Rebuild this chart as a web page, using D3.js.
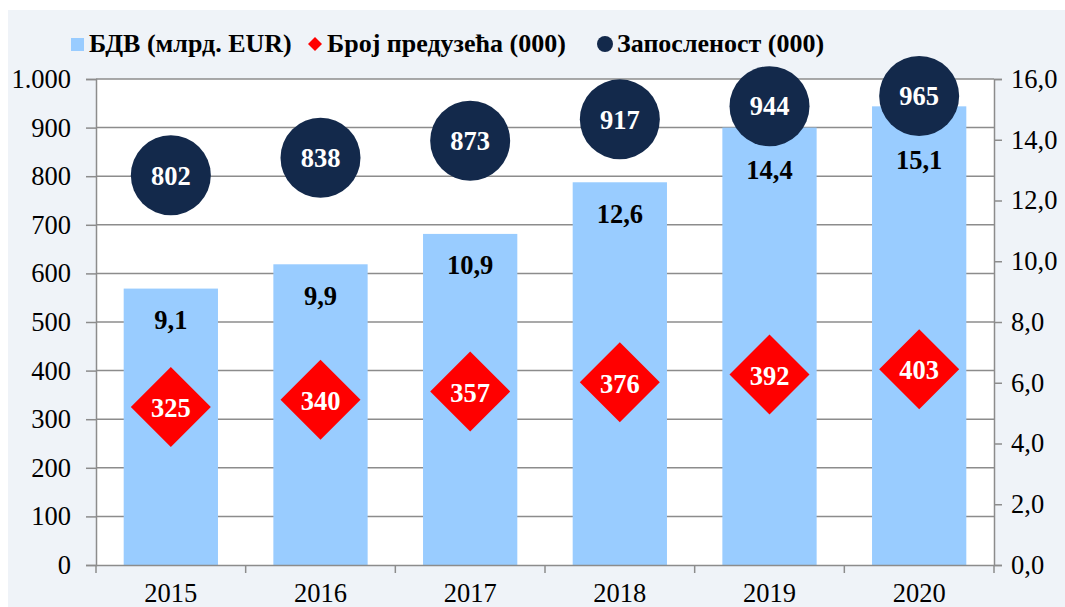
<!DOCTYPE html>
<html><head><meta charset="utf-8">
<script src="https://cdn.jsdelivr.net/npm/d3@7"></script>
<style>body{margin:0;background:#fff}svg{display:block}
svg text{font-family:'Liberation Serif','Times New Roman',serif !important;}</style>
</head><body>
<svg id="c" width="1065" height="607"></svg>
<script>
const years = ["2015","2016","2017","2018","2019","2020"];
const bdv = [9.1, 9.9, 10.9, 12.6, 14.4, 15.1];
const firms = [325, 340, 357, 376, 392, 403];
const employment = [802, 838, 873, 917, 944, 965];
const leftTicks = [0,100,200,300,400,500,600,700,800,900,1000];
const rightTicks = [0,2,4,6,8,10,12,14,16];
const legendItems = ["БДВ (млрд. EUR)", "Број предузећа (000)", "Запосленост (000)"];

const W = 1065, H = 607;
const m = {l:96, r:71, t:79, b:42};
const svg = d3.select("#c");
const font = "'Liberation Serif','Times New Roman',serif";
const fs = "26.5px";

svg.append("rect").attr("x",8).attr("y",10).attr("width",W-8).attr("height",H-10).attr("fill","#eff3f8");

const x = d3.scaleBand().domain(years).range([m.l, W-m.r]).paddingInner(0.37).paddingOuter(0.185);
const xb = d3.scaleBand().domain(years).range([m.l, W-m.r]);
const yL = d3.scaleLinear().domain([0,1000]).range([H-m.b, m.t]);
const yR = d3.scaleLinear().domain([0,16]).range([H-m.b, m.t]);

svg.append("rect").attr("x",m.l).attr("y",m.t).attr("width",W-m.r-m.l).attr("height",H-m.b-m.t).attr("fill","#fff");

const grey = "#8c8c8c";
svg.append("g").selectAll("line").data(leftTicks.slice(1)).join("line")
  .attr("x1",m.l).attr("x2",W-m.r).attr("y1",d=>yL(d)).attr("y2",d=>yL(d))
  .attr("stroke",grey).attr("stroke-width",1.5);

svg.append("g").selectAll("rect").data(years).join("rect")
  .attr("x",d=>x(d)).attr("width",x.bandwidth())
  .attr("y",(d,i)=>yR(bdv[i])).attr("height",(d,i)=>yR(0)-yR(bdv[i]))
  .attr("fill","#99ccff");

const gl = svg.append("g").attr("transform",`translate(${m.l},0)`)
  .call(d3.axisLeft(yL).tickValues(leftTicks).tickSize(10).tickPadding(15)
    .tickFormat(d=>d3.format(",")(d).replace(",", ".")));
const gr = svg.append("g").attr("transform",`translate(${W-m.r},0)`)
  .call(d3.axisRight(yR).tickValues(rightTicks).tickSize(8).tickPadding(9)
    .tickFormat(d=>d3.format(".1f")(d).replace(".", ",")));
const gb = svg.append("g").attr("transform",`translate(0,${H-m.b})`)
  .call(d3.axisBottom(xb).tickSize(0).tickPadding(18));
svg.append("g").selectAll("line").data(years.concat(["end"])).join("line")
  .attr("x1",(d,i)=>m.l + i*xb.step()).attr("x2",(d,i)=>m.l + i*xb.step())
  .attr("y1",H-m.b).attr("y2",H-m.b+8).attr("stroke",grey).attr("stroke-width",1.5);

[gl,gr,gb].forEach(g=>{
  g.attr("font-family",font).attr("font-size",26);
  g.select(".domain").attr("stroke",grey).attr("stroke-width",1.5);
  g.selectAll(".tick line").attr("stroke",grey).attr("stroke-width",1.5);
  g.selectAll("text").style("font-family",font).style("font-size",fs).attr("fill","#000");
});
gb.select(".domain").attr("d",`M${m.l},0.5H${W-m.r}`);

const cx = d=>x(d)+x.bandwidth()/2;
const R = 40;

svg.append("g").selectAll("path").data(years).join("path")
  .attr("d",(d,i)=>{const X=cx(d),Y=yL(firms[i]);return `M${X},${Y-R}L${X+R},${Y}L${X},${Y+R}L${X-R},${Y}Z`;})
  .attr("fill","#ff0000");
svg.append("g").selectAll("text").data(years).join("text")
  .attr("x",d=>cx(d)).attr("y",(d,i)=>yL(firms[i])+1).attr("dy","0.35em")
  .attr("text-anchor","middle").style("font-family",font).attr("font-weight","bold")
  .style("font-size",fs).attr("fill","#fff").text((d,i)=>firms[i]);

svg.append("g").selectAll("circle").data(years).join("circle")
  .attr("cx",d=>cx(d)).attr("cy",(d,i)=>yL(employment[i])).attr("r",R)
  .attr("fill","#13294b");
svg.append("g").selectAll("text").data(years).join("text")
  .attr("x",d=>cx(d)).attr("y",(d,i)=>yL(employment[i])).attr("dy","0.35em")
  .attr("text-anchor","middle").style("font-family",font).attr("font-weight","bold")
  .style("font-size",fs).attr("fill","#fff").text((d,i)=>employment[i]);

svg.append("g").selectAll("text").data(years).join("text")
  .attr("x",d=>cx(d))
  .attr("y",(d,i)=>Math.max(yR(bdv[i])+31, yL(employment[i])+R+24)).attr("dy","0.35em")
  .attr("text-anchor","middle").style("font-family",font).attr("font-weight","bold")
  .style("font-size",fs).attr("fill","#000").text((d,i)=>d3.format(".1f")(bdv[i]).replace(".", ","));

const lg = svg.append("g");
const lx = [71, 308, 597];
lg.append("rect").attr("x",lx[0]).attr("y",38).attr("width",13).attr("height",13).attr("fill","#99ccff");
lg.append("path").attr("d",`M${lx[1]+7},37L${lx[1]+14},44L${lx[1]+7},51L${lx[1]},44Z`).attr("fill","#ff0000");
lg.append("circle").attr("cx",lx[2]+8).attr("cy",44).attr("r",8).attr("fill","#13294b");
lg.selectAll("text").data(legendItems).join("text")
  .attr("x",(d,i)=>lx[i]+(i==0?18:i==1?19:20)).attr("y",52)
  .style("font-family",font).attr("font-weight","bold").style("font-size","26px").attr("fill","#000")
  .text(d=>d);
</script>
</body></html>
